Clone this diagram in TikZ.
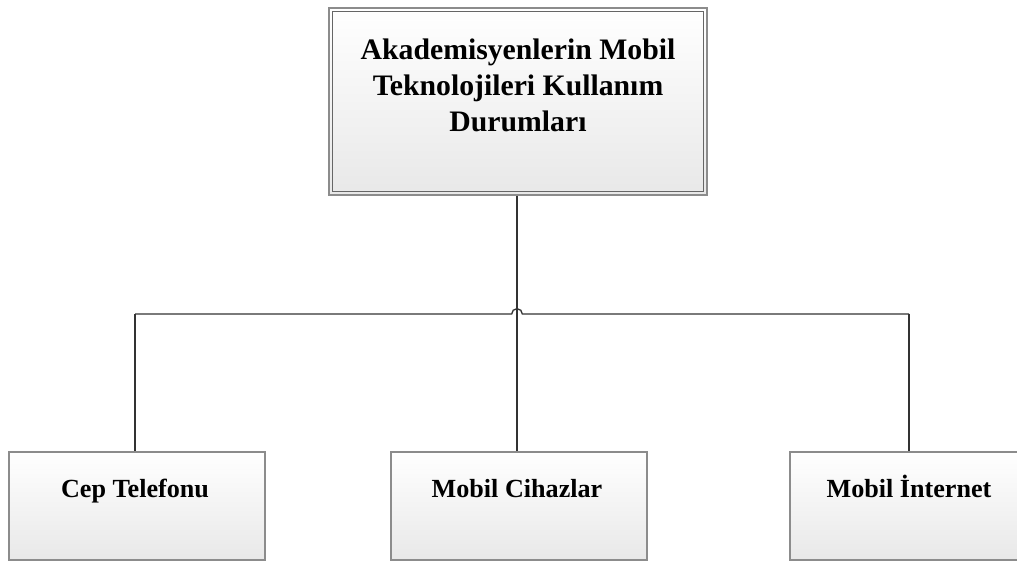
\documentclass[tikz,border=0pt]{standalone}
\usepackage{fontspec}
\setmainfont{Liberation Serif}
\begin{document}
\begin{tikzpicture}[x=0.75pt,y=-0.75pt,
  boxstyle/.style={draw=black!45, line width=0.8pt, rectangle, inner sep=0pt,
    top color=white, bottom color=black!9},
  link/.style={draw=black!80, line width=1pt},
  toptext/.style={font=\bfseries\fontsize{22.3}{27}\selectfont, align=center, inner sep=0pt},
  leaftext/.style={font=\bfseries\fontsize{19.6}{23}\selectfont, inner sep=0pt, anchor=base}]
\clip (0,0) rectangle (1017,561);
\fill[white] (0,0) rectangle (1017,561);

% root box with a double frame
\node[boxstyle, minimum width=378*0.75pt, minimum height=187*0.75pt] (root) at (518,101.5) {};
\draw[draw=black!60, line width=0.8pt] ([xshift=3pt,yshift=-3pt]root.north west) rectangle ([xshift=-3pt,yshift=3pt]root.south east);
\node[toptext, anchor=north] (roottext) at (518,39) {Akademisyenlerin Mobil\\Teknolojileri Kullanım\\Durumları};

% leaf boxes
\node[boxstyle, minimum width=256*0.75pt, minimum height=108*0.75pt] (cep) at (137,506) {};
\node[boxstyle, minimum width=256*0.75pt, minimum height=108*0.75pt] (cihaz) at (519,506) {};
\node[boxstyle, minimum width=238*0.75pt, minimum height=108*0.75pt] (inet) at (909,506) {};
\node[leaftext] (ceptext) at (135,497) {Cep Telefonu};
\node[leaftext] (cihaztext) at (517,497) {Mobil Cihazlar};
\node[leaftext] (inettext) at (909,497) {Mobil İnternet};

% bus line with a hop over the trunk
\coordinate (busL) at (135,314);
\coordinate (busM) at (517,314);
\coordinate (busR) at (909,314);
\draw[link] (busM |- root.south) -- (busM |- cihaz.north);
\draw[link] (busL) -- ([xshift=-4pt]busM) arc[start angle=180, end angle=0, radius=4pt] -- (busR);
\draw[link] (busL) -- (busL |- cep.north);
\draw[link] (busR) -- (busR |- inet.north);
\end{tikzpicture}
\end{document}
